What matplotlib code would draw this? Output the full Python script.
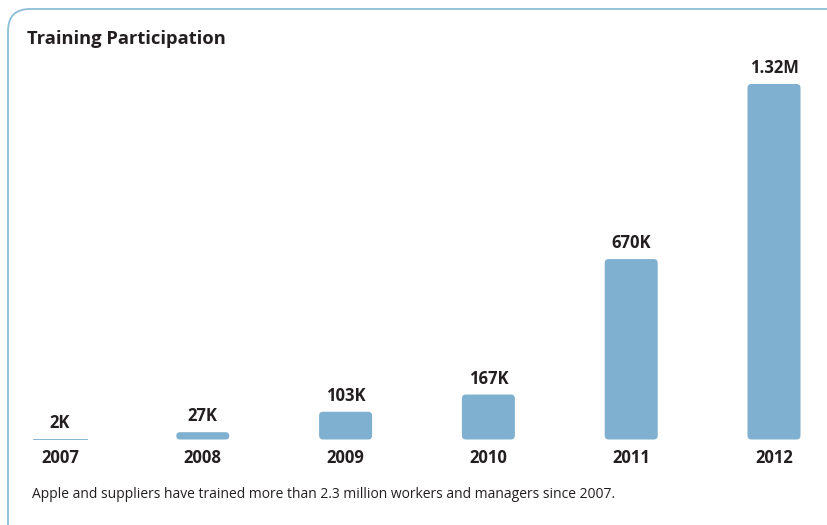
import matplotlib

matplotlib.use('Agg')
import matplotlib.pyplot as plt
from matplotlib.patches import FancyBboxPatch

# Chart data
years = ['2007', '2008', '2009', '2010', '2011', '2012']
participants = [2000, 27000, 103000, 167000, 670000, 1320000]
value_labels = ['2K', '27K', '103K', '167K', '670K', '1.32M']
title = 'Training Participation'
footnote = 'Apple and suppliers have trained more than 2.3 million workers and managers since 2007.'

BAR_COLOR = '#7fb0cf'
TEXT_COLOR = '#231f20'
BORDER_COLOR = '#8dbdd8'
plt.rcParams['font.family'] = ['Open Sans', 'DejaVu Sans']

W, H = 827, 525
fig = plt.figure(figsize=(W / 100, H / 100), dpi=100)

# Frame overlay in pixel units
frame = fig.add_axes([0, 0, 1, 1])
frame.set_xlim(0, W)
frame.set_ylim(H, 0)
frame.axis('off')
frame.add_patch(FancyBboxPatch((8, 9), 900, 600, boxstyle='round,pad=0,rounding_size=22',
                               fc='none', ec=BORDER_COLOR, lw=1.3))
frame.text(27, 39, title, fontsize=13.2, fontweight='bold', color=TEXT_COLOR, va='center', ha='left')
frame.text(32, 495, footnote, fontsize=10, color=TEXT_COLOR, va='center', ha='left')

# Bar axes: bottom at y=439px, top of tallest bar at y=84px, bar spacing ~143px
step = 142.8
x0 = 60
ax = fig.add_axes([0, (H - 439.5) / H, 1, 355.5 / H])
ax.set_xlim(-x0 / step, (W - x0) / step)
ax.set_ylim(0, max(participants))
ax.axis('off')

bar_w = 53 / step
px_y = max(participants) / 355.5
px_x = 1 / step
for i, (v, lab, yr) in enumerate(zip(participants, value_labels, years)):
    r_px = min(4.0, v / px_y / 2)
    if r_px < 1:
        ax.bar(i, v, width=bar_w, color=BAR_COLOR, edgecolor=BAR_COLOR, linewidth=0.6)
    else:
        p = FancyBboxPatch((i - bar_w / 2, 0), bar_w, v,
                           boxstyle='round,pad=0,rounding_size=%f' % (r_px * px_x),
                           mutation_aspect=px_y / px_x, fc=BAR_COLOR, ec='none')
        ax.add_patch(p)
    ax.annotate(lab, (i, v), xytext=(0, 11.5), textcoords='offset points',
                ha='center', va='center', fontsize=12, fontweight='bold', color=TEXT_COLOR,
                annotation_clip=False)
    ax.annotate(yr, (i, 0), xytext=(0, -13.5), textcoords='offset points',
                ha='center', va='center', fontsize=12, fontweight='bold', color=TEXT_COLOR,
                annotation_clip=False)

fig.savefig('out.png', dpi=100)
